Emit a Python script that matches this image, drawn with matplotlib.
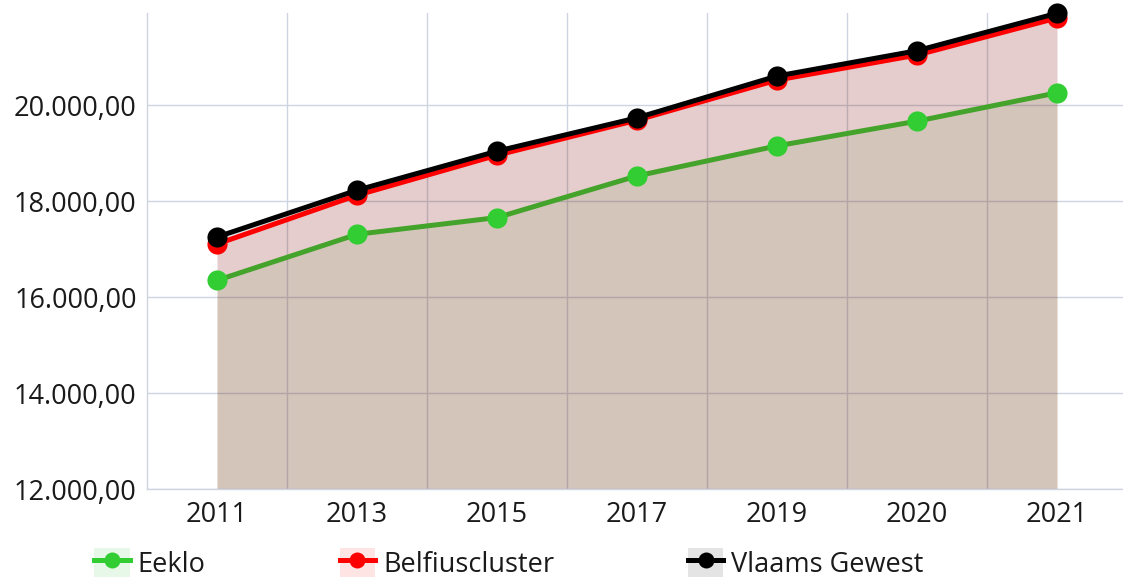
import matplotlib
matplotlib.use("Agg")
import matplotlib.pyplot as plt
from matplotlib.ticker import FuncFormatter, FixedLocator
from matplotlib.lines import Line2D
from matplotlib.patches import Patch

years = ["2011", "2013", "2015", "2017", "2019", "2020", "2021"]
eeklo = [16349, 17309, 17658, 18526, 19152, 19668, 20259]
belfius = [17106, 18123, 18958, 19689, 20524, 21046, 21818]
vlaams = [17253, 18228, 19042, 19737, 20608, 21136, 21916]
series_names = ["Eeklo", "Belfiuscluster", "Vlaams Gewest"]

plt.rcParams['font.family'] = ['Open Sans', 'DejaVu Sans']

W, H = 1123, 579
fig = plt.figure(figsize=(W / 100, H / 100), dpi=100)
left, right, top, bottom = 147, 1127, 13.3, 489
ax = fig.add_axes([left / W, 1 - bottom / H, (right - left) / W, (bottom - top) / H])

x = list(range(len(years)))
ymin = 12000
ymax = max(vlaams)

line_colors = ["#43a32b", "#ff0000", "#000000"]
point_colors = ["#32cd32", "#ff0000", "#000000"]
fill_colors = ["#43a32b", "#ff0000", "#000000"]
datas = [eeklo, belfius, vlaams]

for d, fc in zip(datas, fill_colors):
    ax.fill_between(x, ymin, d, color=fc, alpha=0.1, linewidth=0, zorder=1)

for i, (d, lc, pc) in enumerate(zip(datas, line_colors, point_colors)):
    ax.plot(x, d, color=lc, linewidth=3.6, zorder=3 + i * 2, solid_capstyle='round', clip_on=False)
    ax.plot(x, d, linestyle='none', marker='o', markersize=14.5, markerfacecolor=pc,
            markeredgecolor=pc, markeredgewidth=0, zorder=4 + i * 2, clip_on=False)

ax.set_xlim(-0.5, len(years) - 0.5)
ax.set_ylim(ymin, ymax)

ax.set_xticks(x)
ax.set_xticklabels(years)
ax.xaxis.set_minor_locator(FixedLocator([i + 0.5 for i in range(len(years) - 1)]))
ax.set_yticks([12000, 14000, 16000, 18000, 20000])

def fmt(v, pos):
    s = f"{v:,.2f}"
    return s.replace(',', 'X').replace('.', ',').replace('X', '.')
ax.yaxis.set_major_formatter(FuncFormatter(fmt))

grid_color = "#cfd5e0"
ax.set_axisbelow(True)
ax.grid(axis='y', which='major', color=grid_color, linewidth=1.0)
ax.grid(axis='x', which='minor', color=grid_color, linewidth=1.0)
ax.grid(axis='x', which='major', visible=False)

for s in ['top', 'right']:
    ax.spines[s].set_visible(False)
for s in ['left', 'bottom']:
    ax.spines[s].set_color(grid_color)
    ax.spines[s].set_linewidth(1.0)

fs = 19.5
ax.tick_params(axis='both', which='both', length=0, labelsize=fs, colors='#1a1a1a')
ax.tick_params(axis='y', pad=7.5)
ax.tick_params(axis='x', pad=9)

box_colors = ["#e8f8e8", "#ffe4e4", "#e4e4e4"]
handles = []
for lc, pc, bc in zip(line_colors, point_colors, box_colors):
    p = Patch(facecolor=bc, edgecolor='none')
    l = Line2D([], [], color=pc, linewidth=3.6, marker='o', markersize=11.5,
               markerfacecolor=pc, markeredgewidth=0)
    handles.append((p, l))

leg = fig.legend(handles, series_names, loc='center', bbox_to_anchor=(0.4533, 1 - 563.5 / H),
                 ncol=3, frameon=False, fontsize=fs, handlelength=1.3, handleheight=1.26,
                 handletextpad=0.3, columnspacing=4.95, borderpad=0, borderaxespad=0)
for t in leg.get_texts():
    t.set_color('#1a1a1a')

fig.savefig("out.png", dpi=100)
